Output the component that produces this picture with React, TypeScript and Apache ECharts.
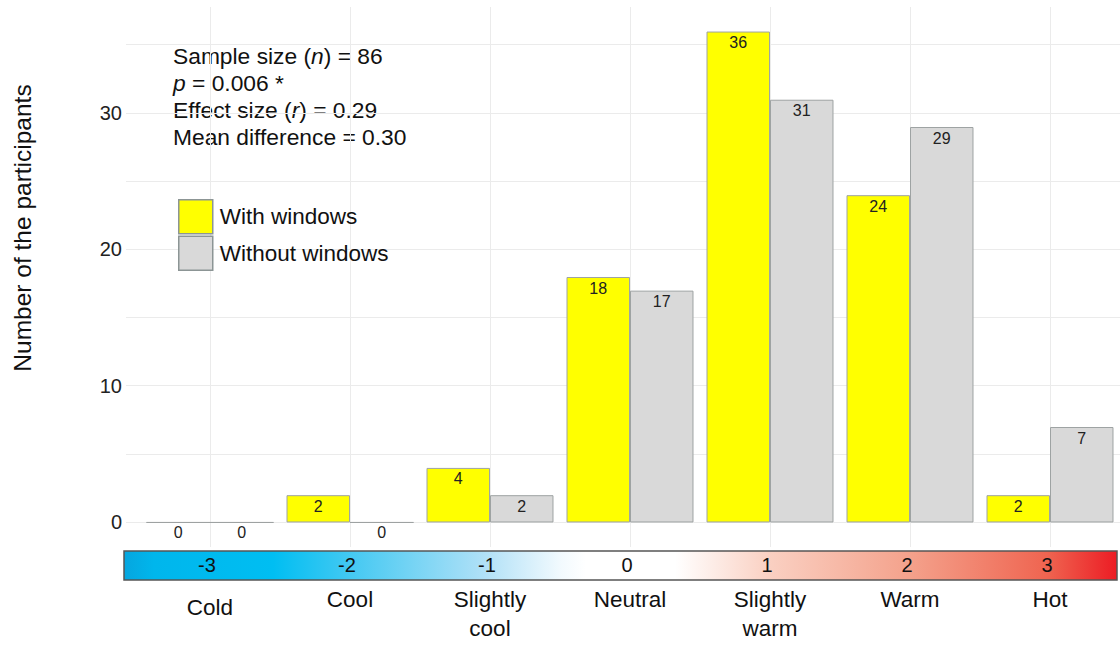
import React, { useEffect, useRef } from "react";
import * as echarts from "echarts";

const categories = ["Cold", "Cool", "Slightly\ncool", "Neutral", "Slightly\nwarm", "Warm", "Hot"];
const scaleValues = ["-3", "-2", "-1", "0", "1", "2", "3"];
const withWindows = [0, 2, 4, 18, 36, 24, 2];
const withoutWindows = [0, 0, 2, 17, 31, 29, 7];
const seriesNames = ["With windows", "Without windows"];
const statLines = [
  "{a|Sample size (}{i|n}{a|) = 86}",
  "{i|p}{a| = 0.006 *}",
  "{a|Effect size (}{i|r}{a|) = 0.29}",
  "{a|Mean difference = 0.30}",
];

const FONT = "'Liberation Sans', Arial, Helvetica, sans-serif";
const GRID = "#EBEBEB";
const BORDER = "#9EA3A3";

export default function App() {
  const ref = useRef<HTMLDivElement>(null);

  useEffect(() => {
    document.body.style.margin = "0";
    if (!ref.current) return;
    const chart = echarts.init(ref.current, null, { renderer: "svg" });

    const barLabel = {
      show: true,
      position: "insideTop",
      distance: 3,
      fontSize: 16,
      color: "#222",
      fontFamily: FONT,
    };

    const option: any = {
      animation: false,
      backgroundColor: "#ffffff",
      textStyle: { fontFamily: FONT },
      grid: [
        { left: 126, width: 1008, top: 44.6, bottom: 124 },
        { left: 210, width: 840, top: 7, bottom: 99 },
        { left: 140, width: 980, top: 7, bottom: 99 },
      ],
      xAxis: [
        { gridIndex: 0, type: "value", show: false, min: 0, max: 1 },
        {
          gridIndex: 1,
          type: "category",
          boundaryGap: false,
          data: scaleValues,
          axisLine: { show: false },
          axisTick: { show: false },
          splitLine: { show: true, interval: 0, lineStyle: { color: GRID, width: 1 } },
          axisLabel: {
            interval: 0,
            fontSize: 20,
            color: "#111",
            margin: 8,
            padding: [0, 6, 0, 0],
            fontFamily: FONT,
          },
        },
        {
          gridIndex: 2,
          type: "category",
          data: categories.map((c) =>
            c === "Cold" ? { value: c, textStyle: { padding: [8, 0, 0, 0] } } : c
          ),
          axisLine: { show: false },
          axisTick: { show: false },
          splitLine: { show: false },
          axisLabel: {
            interval: 0,
            fontSize: 22.5,
            lineHeight: 29,
            color: "#111",
            margin: 38,
            fontFamily: FONT,
          },
        },
      ],
      yAxis: [
        {
          gridIndex: 0,
          type: "value",
          min: 0,
          max: 35,
          interval: 5,
          axisLine: { show: false },
          axisTick: { show: false },
          splitLine: { show: true, lineStyle: { color: GRID, width: 1 } },
          axisLabel: {
            fontSize: 20,
            color: "#222",
            margin: 4,
            padding: [0, 0, 6, 0],
            fontFamily: FONT,
            formatter: (v: number) => (v % 10 === 0 ? String(v) : ""),
          },
        },
        { gridIndex: 1, type: "value", show: false, min: 0, max: 1 },
        { gridIndex: 2, type: "value", show: false, min: -1.8, max: 37.8 },
      ],
      legend: {
        data: seriesNames,
        orient: "vertical",
        left: 178,
        top: 199,
        itemWidth: 34,
        itemHeight: 34,
        itemGap: 1,
        icon: "rect",
        padding: 0,
        textStyle: { fontSize: 22.5, color: "#111", fontFamily: FONT, padding: [0, 0, 0, 2] },
        itemStyle: { borderColor: "#8C9595", borderWidth: 1.5 },
      },
      series: [
        {
          name: seriesNames[0],
          type: "bar",
          xAxisIndex: 2,
          yAxisIndex: 2,
          data: withWindows,
          barGap: "0%",
          barCategoryGap: "9.3%",
          itemStyle: { color: "#FFFF00", borderColor: BORDER, borderWidth: 1 },
          label: barLabel,
        },
        {
          name: seriesNames[1],
          type: "bar",
          xAxisIndex: 2,
          yAxisIndex: 2,
          data: withoutWindows,
          barGap: "0%",
          barCategoryGap: "9.3%",
          itemStyle: { color: "#D9D9D9", borderColor: BORDER, borderWidth: 1 },
          label: barLabel,
        },
      ],
      graphic: [
        {
          type: "rect",
          z: -1,
          shape: { x: 124, y: 551, width: 993, height: 29 },
          style: {
            fill: new echarts.graphic.LinearGradient(0, 0, 1, 0, [
              { offset: 0, color: "#06A6DF" },
              { offset: 0.03, color: "#00B6EC" },
              { offset: 0.15, color: "#00BEF2" },
              { offset: 0.23, color: "#45C9F2" },
              { offset: 0.365, color: "#B2E1F7" },
              { offset: 0.44, color: "#F2FAFE" },
              { offset: 0.465, color: "#FFFFFF" },
              { offset: 0.555, color: "#FFFFFF" },
              { offset: 0.65, color: "#FAD0C2" },
              { offset: 0.79, color: "#F4A28C" },
              { offset: 0.93, color: "#EF6450" },
              { offset: 1, color: "#EC1C24" },
            ]),
            stroke: "#555555",
            lineWidth: 1.5,
          },
        },
        {
          type: "text",
          x: 22,
          y: 228,
          rotation: Math.PI / 2,
          style: {
            text: "Number of the participants",
            fontSize: 24.5,
            fontFamily: FONT,
            fill: "#111",
            align: "center",
            verticalAlign: "middle",
          },
        },
        {
          type: "text",
          x: 173,
          y: 42.5,
          style: {
            text: statLines.join("\n"),
            fontSize: 22.8,
            lineHeight: 27,
            fontFamily: FONT,
            fill: "#111",
            rich: {
              a: { fontSize: 22.8, lineHeight: 27, fontFamily: FONT, fill: "#111" },
              i: { fontSize: 22.8, lineHeight: 27, fontFamily: FONT, fontStyle: "italic", fill: "#111" },
            },
          },
        },
      ],
    };

    chart.setOption(option);
    return () => chart.dispose();
  }, []);

  return <div ref={ref} style={{ width: 1120, height: 646 }} />;
}
